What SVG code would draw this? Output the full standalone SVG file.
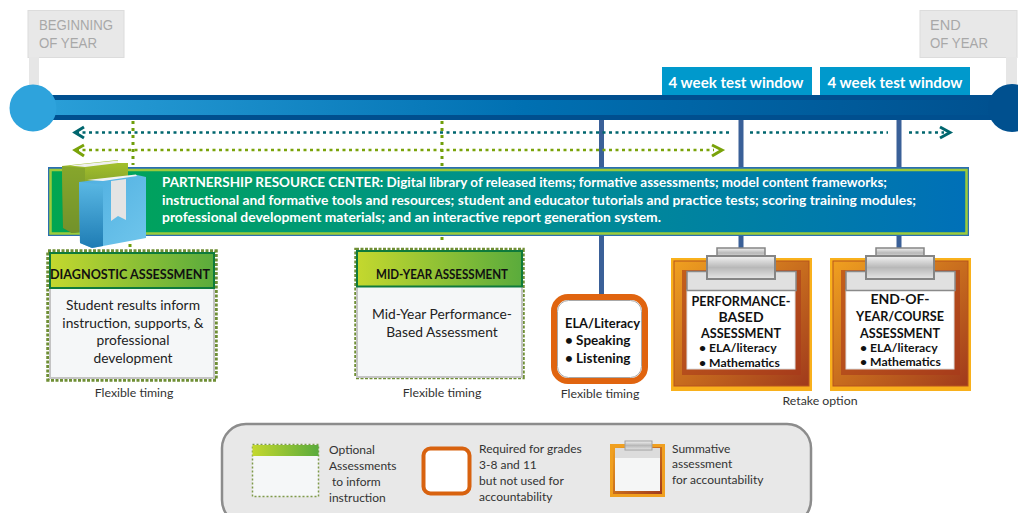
<svg xmlns="http://www.w3.org/2000/svg" width="1018" height="513" viewBox="0 0 1018 513">
<style>
text{font-family:"Lato","Open Sans","Liberation Sans",sans-serif;fill:#222}
.c{text-anchor:middle}
.flag{fill:#e8e8e8;stroke:#dcdcdc;stroke-width:1}
.flagt{font-family:"Liberation Sans",sans-serif;font-size:14.5px;fill:#a8a8a8}
.win{fill:#0099cc}
.wint{font-size:15px;font-weight:700;fill:#fff;text-anchor:middle}
.prc{font-size:12.6px;font-weight:700;fill:#fff}
.conn{stroke:#3a6098;stroke-width:5;fill:none}
.gd{stroke:#6f9e0a;stroke-width:3;stroke-dasharray:3 4;fill:none}
.tl{stroke:#00666e;stroke-width:2.5;stroke-dasharray:3 3.5;fill:none}
.gl{stroke:#7aa30a;stroke-width:2.5;stroke-dasharray:3 3.5;fill:none}
.hT{stroke:#00666e;stroke-width:3;fill:none}
.hG{stroke:#7aa30a;stroke-width:3;fill:none}
.optd{fill:none;stroke:#6f8f35;stroke-width:3.5;stroke-dasharray:3 1.5}
.optb{fill:#f5f7f8;stroke:#c4c4c4;stroke-width:2}
.opth{fill:url(#gH);stroke:#0e7a3c;stroke-width:2}
.body{font-size:13.8px}
.note{font-size:12.3px;fill:#333}
.ht{font-size:13.6px;font-weight:700;fill:#111;text-anchor:middle}
.sum{font-size:14px;font-weight:700;fill:#111;text-anchor:middle}
.sumb{font-size:12.2px;font-weight:700;fill:#111}
.leg{font-size:12px;fill:#333}
.clip{fill:url(#gC);stroke:#858585;stroke-width:1.5}
</style>
<defs>
<linearGradient id="gBar" x1="0" x2="1" y1="0" y2="0"><stop offset="0" stop-color="#2a9fd8"/><stop offset=".5" stop-color="#0070b2"/><stop offset="1" stop-color="#00508f"/></linearGradient>
<linearGradient id="gPrc" x1="0" x2="1" y1="0" y2="0"><stop offset="0" stop-color="#00a651"/><stop offset=".5" stop-color="#00908f"/><stop offset="1" stop-color="#0070b8"/></linearGradient>
<linearGradient id="gH" x1="0" x2="1" y1="0" y2="0"><stop offset="0" stop-color="#c4d82e"/><stop offset="1" stop-color="#5aab3c"/></linearGradient>
<linearGradient id="gO" x1="0" x2="1" y1="0" y2="1"><stop offset="0" stop-color="#f0a020"/><stop offset="1" stop-color="#a03a1c"/></linearGradient>
<linearGradient id="gC" x1="0" x2="0" y1="0" y2="1"><stop offset="0" stop-color="#f2f2f2"/><stop offset=".5" stop-color="#b8b8b8"/><stop offset="1" stop-color="#e6e6e6"/></linearGradient>
<linearGradient id="gG" x1="0" x2="0" y1="0" y2="1"><stop offset="0" stop-color="#a6c32c"/><stop offset="1" stop-color="#4d6b2a"/></linearGradient>
<linearGradient id="gB" x1="0" x2="1" y1="0" y2="1"><stop offset="0" stop-color="#4eaee0"/><stop offset="1" stop-color="#70c6ec"/></linearGradient>
<linearGradient id="gS" x1="0" x2="0" y1="0" y2="1"><stop offset="0" stop-color="#5ab8e4"/><stop offset="1" stop-color="#1e7cb4"/></linearGradient>
<g id="clipboard">
<rect x="0" y="0" width="141" height="133" fill="#f9b11c"/>
<rect x="3" y="3" width="135" height="125" fill="url(#gO)" stroke="#b7541c"/>
<rect x="11" y="12" width="119" height="105" fill="#a8391b" opacity=".6"/>
<rect x="16" y="32" width="108" height="79" fill="#fff" stroke="#ddd"/>
<rect x="16" y="13.500" width="109" height="19" fill="#e0e0e0" stroke="#8a8a8a" stroke-width="1.500"/>
<rect x="46" y="-10" width="48" height="10" class="clip"/>
<rect x="36" y="-2" width="68" height="23" class="clip" style="stroke-width:2"/>
</g>
</defs>

<g id="connectors">
<path class="conn" d="M601.500 120V167M601.500 235V296M741 120V167M741 235V250M899 120V167M899 235V250"/>
<path class="gd" d="M133 121V165M442 121V167M442 237V244M130 244V250"/>
<path class="tl" d="M76 132.500H730M750 132.500H888M909 132.500H944"/>
<path class="hT" d="M84 127L75 132.500L84 138M940 127L950 132.500L940 138"/>
<path class="gl" d="M76 150H714"/>
<path class="hG" d="M84 145L75 150L84 156M712 145L722 150L712 156"/>
</g>

<g id="timeline">
<rect x="45" y="95" width="960" height="25" fill="#004f8f"/>
<rect x="45" y="100" width="960" height="15" fill="url(#gBar)"/>
</g>
<g id="begin-flag">
<rect class="flag" x="28" y="10.500" width="96" height="47"/>
<rect x="29" y="57" width="10" height="30" fill="#e6e6e6"/>
<circle cx="33" cy="108" r="23.500" fill="#2ea3dc"/>
<text class="flagt" x="39" y="30" textLength="74" lengthAdjust="spacingAndGlyphs">BEGINNING</text>
<text class="flagt" x="39" y="48" textLength="58" lengthAdjust="spacingAndGlyphs">OF YEAR</text>
</g>
<g id="end-flag">
<rect class="flag" x="920" y="10.500" width="97" height="47"/>
<rect x="1006" y="57" width="11" height="30" fill="#e6e6e6"/>
<circle cx="1012" cy="108" r="24" fill="#00508f"/>
<text class="flagt" x="930" y="30">END</text>
<text class="flagt" x="930" y="48" textLength="58" lengthAdjust="spacingAndGlyphs">OF YEAR</text>
</g>
<g id="window-1">
<rect class="win" x="662" y="67" width="150" height="28"/>
<text class="wint" x="736" y="88" textLength="135" lengthAdjust="spacingAndGlyphs">4 week test window</text>
</g>
<g id="window-2">
<rect class="win" x="820" y="67" width="150" height="28"/>
<text class="wint" x="895" y="88" textLength="135" lengthAdjust="spacingAndGlyphs">4 week test window</text>
</g>

<g id="resource-center">
<rect x="48" y="167" width="921" height="69" fill="#2a6fb0"/>
<rect x="50.500" y="170" width="916" height="63.500" fill="url(#gPrc)" stroke="#9ccb3b" stroke-width="2.500"/>
<text class="prc" x="162" y="187" textLength="725" lengthAdjust="spacingAndGlyphs">PARTNERSHIP RESOURCE CENTER: Digital library of released items; formative assessments; model content frameworks;</text>
<text class="prc" x="162" y="204.500" textLength="754" lengthAdjust="spacingAndGlyphs">instructional and formative tools and resources; student and educator tutorials and practice tests; scoring training modules;</text>
<text class="prc" x="162" y="222" textLength="499" lengthAdjust="spacingAndGlyphs">professional development materials; and an interactive report generation system.</text>
</g>
<g id="books">
<path d="M62 166L118 160V163L128 163V225L72 233L63 228Z" fill="url(#gG)"/>
<path d="M62 166L85 168V232L72 233L63 228Z" fill="#7f9f2c" opacity=".75"/>
<path d="M70 165.500L118 160.500V163L85 167Z" fill="#f0f0f0"/>
<path d="M79 182L137 175L146 177V238L103 246L92 248L80 243Z" fill="url(#gB)"/>
<path d="M79 182L103 185V246L92 248L80 243Z" fill="url(#gS)"/>
<path d="M87 180L136 174.500L137 176L103 181Z" fill="#f2f2f2"/>
<path d="M111 181L126 179V220L118 216L111 221Z" fill="#e4e4e4"/>
</g>

<g id="diagnostic">
<rect class="optd" x="48" y="251" width="168" height="129"/>
<rect class="optb" x="50" y="253" width="164" height="125"/>
<rect class="opth" x="50" y="253" width="164" height="35"/>
<text class="ht" x="130" y="279" textLength="160" lengthAdjust="spacingAndGlyphs">DIAGNOSTIC ASSESSMENT</text>
<text class="body c" x="133" y="310">Student results inform</text>
<text class="body c" x="133" y="328">instruction, supports, &amp;</text>
<text class="body c" x="133" y="345">professional</text>
<text class="body c" x="133" y="363">development</text>
<text class="note c" x="134" y="397">Flexible timing</text>
</g>
<g id="mid-year">
<rect class="optd" x="356" y="249.500" width="167" height="128"/>
<rect class="optb" x="357" y="251" width="165" height="126"/>
<rect class="opth" x="357" y="251" width="165" height="35.500"/>
<text class="ht" x="442" y="279" textLength="132" lengthAdjust="spacingAndGlyphs">MID-YEAR ASSESSMENT</text>
<text class="body c" x="442" y="319">Mid-Year Performance-</text>
<text class="body c" x="442" y="337">Based Assessment</text>
<text class="note c" x="442" y="397">Flexible timing</text>
</g>
<g id="ela">
<rect x="554" y="297" width="91" height="84" rx="14" fill="#fff" stroke="#e0640f" stroke-width="6"/>
<rect x="557.500" y="300.500" width="84" height="77" rx="11" fill="none" stroke="#a8a8a8" stroke-width="1"/>
<text class="sumb" x="565" y="328" style="font-size:13.500px" textLength="75" lengthAdjust="spacingAndGlyphs">ELA/Literacy</text>
<text class="sumb" x="565" y="345" style="font-size:13.500px">• Speaking</text>
<text class="sumb" x="565" y="363" style="font-size:13.500px">• Listening</text>
<text class="note c" x="600" y="398">Flexible timing</text>
</g>
<g id="performance">
<use href="#clipboard" x="671" y="258"/>
<text class="sum" x="741" y="306" textLength="99" lengthAdjust="spacingAndGlyphs">PERFORMANCE-</text>
<text class="sum" x="741" y="322">BASED</text>
<text class="sum" x="741" y="338" textLength="80" lengthAdjust="spacingAndGlyphs">ASSESSMENT</text>
<text class="sumb" x="699" y="352">• ELA/literacy</text>
<text class="sumb" x="699" y="367">• Mathematics</text>
</g>
<g id="end-of-year">
<use href="#clipboard" x="830" y="258"/>
<text class="sum" x="900" y="304">END-OF-</text>
<text class="sum" x="900" y="321" textLength="88" lengthAdjust="spacingAndGlyphs">YEAR/COURSE</text>
<text class="sum" x="900" y="338" textLength="80" lengthAdjust="spacingAndGlyphs">ASSESSMENT</text>
<text class="sumb" x="860" y="352">• ELA/literacy</text>
<text class="sumb" x="860" y="366">• Mathematics</text>
</g>
<text class="note c" x="820" y="405">Retake option</text>

<g id="legend">
<rect x="222" y="424" width="589" height="100" rx="24" fill="#e8e8e8" stroke="#8c8c8c" stroke-width="2.500"/>
<g id="legend-optional">
<rect x="252.500" y="444.500" width="66" height="52" fill="#f5f7f8" stroke="#7f9a4a" stroke-width="1.500" stroke-dasharray="2 2"/>
<rect x="252.500" y="445" width="66" height="11" fill="url(#gH)"/>
<text class="leg" x="329" y="454">Optional</text>
<text class="leg" x="329" y="470">Assessments</text>
<text class="leg" x="332" y="486">to inform</text>
<text class="leg" x="329" y="502">instruction</text>
</g>
<g id="legend-required">
<rect x="423.500" y="448.500" width="46" height="45" rx="7" fill="#fff" stroke="#d8620f" stroke-width="4"/>
<text class="leg" x="479" y="453">Required for grades</text>
<text class="leg" x="479" y="469">3-8 and 11</text>
<text class="leg" x="479" y="485">but not used for</text>
<text class="leg" x="479" y="501">accountability</text>
</g>
<g id="legend-summative">
<rect x="610" y="444" width="55" height="53" fill="#f0a020"/>
<rect x="613" y="447" width="49" height="47" fill="url(#gO)"/>
<rect x="615" y="457" width="45" height="34" fill="#f5f6f6"/>
<rect x="615" y="448" width="45" height="10" fill="#dcdcdc"/>
<rect x="625" y="441" width="27" height="9" fill="url(#gC)" stroke="#a0a0a0"/>
<text class="leg" x="672" y="453">Summative</text>
<text class="leg" x="672" y="468">assessment</text>
<text class="leg" x="672" y="484">for accountability</text>
</g>
</g>
</svg>
